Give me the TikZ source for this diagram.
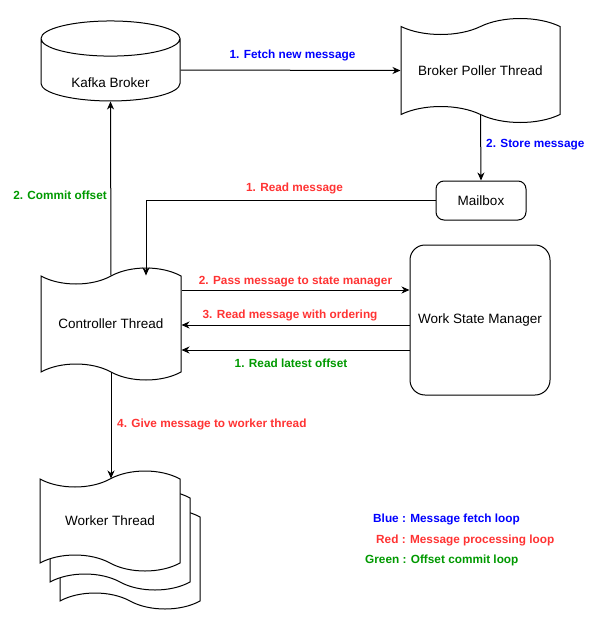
\documentclass[tikz,border=0pt]{standalone}
\usepackage{fontspec}
\setmainfont{Liberation Sans}
\usetikzlibrary{arrows.meta, positioning, shapes.geometric, shapes.symbols, calc}

\definecolor{fetchblue}{RGB}{0,0,255}
\definecolor{procred}{RGB}{255,51,51}
\definecolor{commitgreen}{RGB}{0,153,0}

\begin{document}
\begin{tikzpicture}[x=1pt, y=-1pt,
    paper/.style={tape, draw, fill=white, line width=1pt, tape bend height=16pt, tape bend top=in and out, tape bend bottom=out and in, minimum width=140pt, minimum height=104pt, inner sep=0pt, align=center, font=\fontsize{13.5}{16}\selectfont},
    store/.style={cylinder, shape border rotate=90, aspect=0.45, draw, line width=1pt, minimum width=139pt, minimum height=80pt, inner sep=0pt, font=\fontsize{13.5}{16}\selectfont},
    box/.style={rectangle, rounded corners=8pt, draw, line width=1pt, fill=white, minimum width=90pt, minimum height=39pt, align=center, font=\fontsize{13.5}{16}\selectfont},
    dep/.style={-{Stealth[length=8pt, width=7pt, inset=2.5pt]}, line width=1pt},
    lbl/.style={inner sep=0pt, font=\fontsize{11.8}{14}\selectfont\bfseries}
]
\useasboundingbox (0,0) rectangle (591,621);

% Broker and poller
\node[store, label={[yshift=-13pt, font=\fontsize{13.5}{16}\selectfont]center:Kafka Broker}] (kafka) at (110.5,70) {\phantom{Kafka Broker}};
\node[paper, minimum width=159pt] (poller) at (480.5,70.5) {Broker Poller Thread};
\node[box] (mailbox) at (481,200.5) {Mailbox};

% Controller and state manager
\node[paper, minimum height=112pt] (ctrl) at (111,324) {Controller Thread};
\node[box, minimum width=140pt, minimum height=150pt, rounded corners=15pt] (wsm) at (480,320) {Work State Manager};

% Worker threads (stacked copies)
\node[paper, minimum height=100pt] (worker3) at (130,559) {};
\node[paper, minimum height=100pt] (worker2) at (120,540) {};
\node[paper, minimum height=100pt] (worker) at (110,521) {Worker Thread};

% Fetch loop
\draw[dep] (kafka.east) -- (poller.west);
\draw[dep] (poller.south) -- (mailbox.north);

% Processing loop
\draw[dep] (mailbox.west) -| ([xshift=35pt]ctrl.north);
\draw[dep] ([yshift=34pt]ctrl.east) -- ([yshift=34pt]ctrl.east -| wsm.west);
\draw[dep] ([yshift=-1pt]ctrl.east -| wsm.west) -- ([yshift=-1pt]ctrl.east);
\draw[dep] (ctrl.south) -- (ctrl.south |- worker.north);

% Commit loop
\draw[dep] ([yshift=-26pt]ctrl.east -| wsm.west) -- ([yshift=-26pt]ctrl.east);
\draw[dep] (ctrl.north) -- (kafka.south);

% Labels
\node[lbl, text=fetchblue] (fetchlbl) at (292.5,55) {1. Fetch new message};
\node[lbl, text=fetchblue, anchor=west] (storelbl) at (486,145) {2. Store message};
\node[lbl, text=procred] (readlbl) at (294.5,188) {1. Read message};
\node[lbl, text=commitgreen, anchor=east] (commitlbl) at (107,195) {2. Commit offset};
\node[lbl, text=procred] (passlbl) at (295.5,282) {2. Pass message to state manager};
\node[lbl, text=procred] (orderlbl) at (290,315) {3. Read message with ordering};
\node[lbl, text=commitgreen] (offsetlbl) at (291,363) {1. Read latest offset};
\node[lbl, text=procred, anchor=west] (givelbl) at (117,424) {4. Give message to worker thread};

% Legend
\node[lbl, text=fetchblue, anchor=west] (legfetch) at (373,519) {Blue : Message fetch loop};
\node[lbl, text=procred, anchor=west] (legproc) at (376,540) {Red : Message processing loop};
\node[lbl, text=commitgreen, anchor=west] (legcommit) at (365,560) {Green : Offset commit loop};

\end{tikzpicture}
\end{document}
